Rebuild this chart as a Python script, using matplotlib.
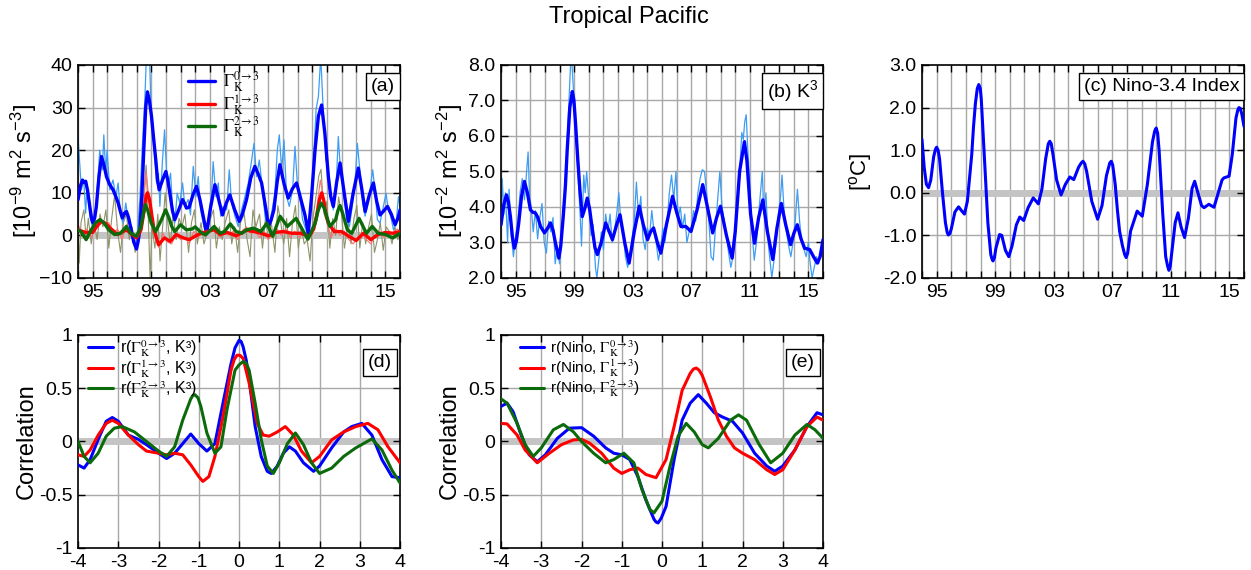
import matplotlib
matplotlib.use("Agg")
import matplotlib.pyplot as plt
from matplotlib.font_manager import FontProperties
from matplotlib.ticker import FixedLocator, FixedFormatter

plt.rcParams['font.family'] = ['Liberation Sans', 'DejaVu Sans']
plt.rcParams['mathtext.fontset'] = 'custom'
plt.rcParams['mathtext.rm'] = 'Liberation Sans'
plt.rcParams['mathtext.it'] = 'Liberation Sans:italic'
plt.rcParams['mathtext.bf'] = 'Liberation Sans:bold'
plt.rcParams['mathtext.sf'] = 'Liberation Sans'

# ---------------- DATA ----------------
# (a) thick blue Gamma 0->3
a_blue_t = [1994.00, 1994.15, 1994.30, 1994.42, 1994.52, 1994.65, 1994.80, 1994.93, 1995.03, 1995.14,
            1995.25, 1995.42, 1995.60, 1995.77, 1995.94, 1996.15, 1996.39, 1996.57, 1996.74, 1996.90,
            1997.03, 1997.17, 1997.31, 1997.45, 1997.58, 1997.80, 1997.99, 1998.10, 1998.22, 1998.36,
            1998.49, 1998.62, 1998.74, 1998.88, 1999.02, 1999.17, 1999.31, 1999.43, 1999.54, 1999.77,
            2000.00, 2000.14, 2000.27, 2000.45, 2000.61, 2000.88, 2001.14, 2001.27, 2001.41, 2001.59,
            2001.85, 2002.09, 2002.32, 2002.55, 2002.78, 2003.05, 2003.35, 2003.60, 2003.87, 2004.12,
            2004.37, 2004.70, 2005.01, 2005.25, 2005.51, 2005.80, 2006.08, 2006.30, 2006.54, 2006.72,
            2006.88, 2007.00, 2007.18, 2007.38, 2007.60, 2007.79, 2008.08, 2008.36, 2008.65, 2008.93,
            2009.22, 2009.50, 2009.73, 2009.95, 2010.19, 2010.42, 2010.64, 2010.86, 2011.10, 2011.27,
            2011.44, 2011.67, 2011.90, 2012.18, 2012.47, 2012.80, 2013.15, 2013.38, 2013.61, 2013.90,
            2014.18, 2014.40, 2014.63, 2014.90, 2015.14, 2015.40, 2015.66, 2015.85, 2016.00]
a_blue_v = [8.4, 11.5, 13.0, 12.4, 12.7, 10.5, 6.8, 3.8, 2.9, 4.2,
            6.8, 13.5, 18.5, 16.5, 13.8, 12.0, 10.7, 9.2, 7.6, 5.5,
            4.1, 5.2, 5.6, 4.2, 2.1, -1.5, -3.2, -1.5, 1.3, 9.5,
            20.0, 30.0, 33.7, 31.5, 27.9, 22.5, 17.7, 13.0, 10.7, 13.0,
            15.0, 12.8, 9.9, 5.8, 3.7, 6.0, 8.4, 7.5, 6.4, 6.6,
            9.5, 11.5, 8.5, 4.5, 0.5, 6.5, 11.9, 8.5, 4.8, 7.5,
            9.5, 6.0, 3.3, 5.2, 8.4, 13.5, 16.2, 14.5, 12.3, 8.5,
            5.2, 2.1, 3.5, 6.0, 12.5, 16.6, 12.0, 8.75, 11.0, 12.3,
            8.5, 4.8, 0.5, 9.0, 20.0, 28.0, 30.6, 24.0, 13.8, 9.0,
            6.8, 12.5, 17.0, 10.0, 3.3, 10.0, 15.8, 11.0, 5.6, 9.5,
            12.3, 8.0, 4.8, 5.8, 6.8, 5.0, 2.5, 4.0, 6.0]

# (a) thick red Gamma 1->3
a_red_t = [1994.0, 1994.5, 1995.0, 1995.3, 1995.6, 1995.9, 1996.2, 1996.7, 1997.3, 1997.7,
           1998.0, 1998.3, 1998.5, 1998.65, 1998.75, 1998.88, 1999.05, 1999.2, 1999.5, 1999.9,
           2000.3, 2000.7, 2001.2, 2001.6, 2002.2, 2002.8, 2003.3, 2003.7, 2004.2, 2004.8,
           2005.5, 2006.0, 2006.5, 2007.0, 2007.5, 2008.0, 2008.6, 2009.2, 2009.8, 2010.1,
           2010.3, 2010.5, 2010.65, 2010.8, 2010.95, 2011.1, 2011.5, 2012.0, 2012.5, 2013.0,
           2013.5, 2014.0, 2014.5, 2015.0, 2015.5, 2016.0]
a_red_v = [1.3, 0.7, 0.7, 2.2, 3.3, 2.8, 1.7, 0.2, 1.3, 0.2,
           -0.6, 1.3, 5.5, 9.3, 10.0, 8.5, 4.5, 1.2, -2.2, -0.6,
           -1.4, 0.2, -0.6, -1.0, 0.2, 0.9, 1.3, 0.2, 0.7, -0.1,
           1.2, 0.9, 0.5, -0.1, 0.7, 0.9, 0.5, 0.5, -0.2, 1.5,
           4.5, 8.5, 10.0, 8.0, 4.5, 2.9, 0.9, 0.9, -0.2, -1.2,
           0.5, -1.0, 0.2, 0.7, 0.5, 0.9]

# (a) thick green Gamma 2->3
a_grn_t = [1994.0, 1994.2, 1994.55, 1994.9, 1995.2, 1995.5, 1995.8, 1996.1, 1996.5, 1996.9,
           1997.3, 1997.6, 1998.0, 1998.3, 1998.45, 1998.6, 1998.75, 1999.0, 1999.3, 1999.7,
           1999.98, 2000.2, 2000.4, 2000.6, 2001.0, 2001.4, 2001.8, 2002.0, 2002.4, 2002.7,
           2003.3, 2003.7, 2004.0, 2004.4, 2004.8, 2005.2, 2005.5, 2006.0, 2006.5, 2006.9,
           2007.3, 2007.8, 2008.3, 2008.9, 2009.4, 2009.7, 2010.2, 2010.4, 2010.6, 2010.8,
           2011.2, 2011.6, 2011.75, 2011.9, 2012.05, 2012.4, 2012.7, 2013.2, 2013.7, 2014.1,
           2014.5, 2015.0, 2015.5, 2016.0]
a_grn_v = [1.3, 0.9, -1.0, 1.3, 3.0, 3.7, 2.8, 1.3, 0.2, 0.5,
           2.1, 0.5, -0.2, 2.1, 5.0, 7.2, 6.0, 2.9, 0.9, 3.7,
           6.0, 4.2, 2.1, 0.9, 2.5, 1.3, 1.5, 2.0, 0.7, 0.1,
           2.1, 0.5, 0.9, 2.7, 0.9, 0.5, 1.3, 1.7, 0.9, 2.9,
           -0.2, 4.5, 2.1, 4.0, 0.9, -0.9, 2.9, 5.8, 7.6, 6.5,
           2.1, 3.7, 5.8, 7.0, 5.5, 1.3, 0.5, 4.0, 0.5, 2.1,
           0.5, 0.2, -0.6, 0.5]

# (a) thin light blue (monthly Gamma 0->3)
a_blue_thin_t = [1994.00, 1994.23, 1994.39, 1994.52, 1994.62, 1994.80, 1995.03, 1995.25, 1995.48, 1995.66,
                 1995.76, 1995.89, 1995.98, 1996.17, 1996.39, 1996.58, 1996.74, 1996.90, 1997.08, 1997.26,
                 1997.42, 1997.65, 1997.88, 1998.04, 1998.22, 1998.40, 1998.56, 1998.67, 1998.86, 1999.02,
                 1999.18, 1999.36, 1999.49, 1999.59, 1999.77, 1999.91, 2000.04, 2000.16, 2000.32, 2000.45,
                 2000.61, 2000.77, 2000.95, 2001.14, 2001.30, 2001.52, 2001.68, 2001.87, 2002.05, 2002.21,
                 2002.37, 2002.55, 2002.73, 2002.89, 2003.12, 2003.23, 2003.42, 2003.58, 2003.74, 2003.92,
                 2004.15, 2004.33, 2004.49, 2004.72, 2004.94, 2005.17, 2005.40, 2005.63, 2005.86, 2006.02,
                 2006.20, 2006.38, 2006.61, 2006.77, 2007.00, 2007.22, 2007.45, 2007.61, 2007.75, 2007.91,
                 2008.07, 2008.25, 2008.43, 2008.66, 2008.82, 2008.98, 2009.16, 2009.34, 2009.57, 2009.73,
                 2009.89, 2010.07, 2010.26, 2010.42, 2010.58, 2010.76, 2010.94, 2011.10, 2011.26, 2011.44,
                 2011.62, 2011.78, 2011.94, 2012.13, 2012.35, 2012.54, 2012.70, 2012.92, 2013.08, 2013.27,
                 2013.45, 2013.61, 2013.77, 2013.95, 2014.13, 2014.29, 2014.45, 2014.63, 2014.86, 2015.04,
                 2015.20, 2015.36, 2015.55, 2015.73, 2015.89, 2016.00]
a_blue_thin_v = [23.0, 10.7, 13.0, 5.2, 12.0, 4.5, 1.3, 7.6, 20.0, 15.4,
                 23.6, 14.6, 20.0, 10.7, 13.0, 9.1, 12.3, 4.5, 2.9, 7.6,
                 3.7, 1.3, -2.6, -0.2, 8.4, 21.6, 31.8, 42.0, 45.0, 25.5,
                 21.6, 12.3, 14.6, 6.8, 17.7, 24.8, 15.4, 11.5, 14.6, 6.8,
                 2.9, 9.9, 7.6, 12.3, 6.8, 8.4, 4.8, 16.2, 9.1, 13.8,
                 6.0, 2.9, 0.2, 2.9, 9.9, 17.3, 9.1, 12.3, 4.5, 6.8,
                 6.0, 15.4, 7.6, 4.5, 2.1, 6.0, 9.1, 12.3, 17.7, 21.6,
                 13.8, 17.7, 10.7, 4.5, 1.3, 5.2, 9.9, 20.0, 23.6, 15.4,
                 22.4, 9.1, 6.8, 10.7, 20.9, 12.3, 9.1, 3.7, 1.3, -0.2,
                 6.0, 16.2, 29.5, 32.6, 42.0, 28.7, 17.7, 15.4, 9.1, 6.0,
                 10.7, 23.2, 14.6, 10.7, 3.7, 2.1, 6.0, 12.3, 21.6, 14.6,
                 7.6, 4.5, 6.8, 10.7, 15.4, 10.7, 3.7, 2.9, 6.8, 9.9,
                 6.0, 4.5, 1.3, 2.9, 9.1, 6.8]

# (a) thin light red (monthly Gamma 1->3)
a_red_thin_t = [1994.0, 1994.3, 1994.6, 1994.9, 1995.2, 1995.5, 1995.8, 1996.1, 1996.4, 1996.7,
                1997.0, 1997.3, 1997.6, 1997.9, 1998.2, 1998.45, 1998.65, 1998.85, 1999.05, 1999.3,
                1999.55, 1999.8, 2000.1, 2000.4, 2000.7, 2001.0, 2001.3, 2001.6, 2001.9, 2002.2,
                2002.5, 2002.8, 2003.1, 2003.4, 2003.7, 2004.0, 2004.3, 2004.6, 2004.9, 2005.2,
                2005.5, 2005.8, 2006.1, 2006.4, 2006.7, 2007.0, 2007.3, 2007.6, 2007.9, 2008.2,
                2008.5, 2008.8, 2009.1, 2009.4, 2009.7, 2010.0, 2010.3, 2010.55, 2010.75, 2011.0,
                2011.3, 2011.6, 2011.9, 2012.2, 2012.5, 2012.8, 2013.1, 2013.4, 2013.7, 2014.0,
                2014.3, 2014.6, 2014.9, 2015.2, 2015.5, 2015.8, 2016.0]
a_red_thin_v = [2.5, 0.5, 1.5, -0.5, 2.0, 4.0, 2.5, 3.0, 0.5, 1.5,
                -1.0, 2.5, 0.0, -1.5, 1.0, 6.0, 15.0, 8.0, 3.0, -1.0,
                -3.0, 0.5, -1.5, -2.0, 0.5, -1.0, -0.5, -2.0, 1.0, -0.5,
                1.0, 0.0, 1.5, 2.0, -0.5, 1.0, 0.0, 1.0, -1.0, 1.0,
                2.0, 0.5, 1.0, -0.5, 1.0, -1.0, 0.5, 1.5, 0.0, 1.5,
                -0.5, 1.0, -0.5, 0.5, -1.0, 1.0, 6.0, 13.0, 9.0, 3.0,
                -0.5, 1.5, 0.0, 1.0, -1.0, -2.0, -0.5, 0.5, -1.0, -2.0,
                0.0, 1.0, -0.5, 1.0, 0.5, 1.5, 1.0]

# (a) thin olive (monthly Gamma 2->3)
a_grn_thin_t = [1994.00, 1994.08, 1994.2, 1994.4, 1994.55, 1994.7, 1994.9, 1995.1, 1995.3, 1995.5,
                1995.7, 1995.9, 1996.1, 1996.3, 1996.5, 1996.7, 1996.9, 1997.1, 1997.3, 1997.5,
                1997.7, 1997.9, 1998.1, 1998.3, 1998.5, 1998.65, 1998.8, 1998.92, 1999.05, 1999.25,
                1999.45, 1999.6, 1999.8, 1999.95, 2000.1, 2000.3, 2000.5, 2000.7, 2000.9, 2001.1,
                2001.3, 2001.55, 2001.75, 2001.95, 2002.15, 2002.4, 2002.6, 2002.85, 2003.05, 2003.25,
                2003.45, 2003.65, 2003.85, 2004.05, 2004.3, 2004.5, 2004.7, 2004.9, 2005.1, 2005.35,
                2005.55, 2005.75, 2005.95, 2006.15, 2006.4, 2006.6, 2006.8, 2007.0, 2007.2, 2007.45,
                2007.65, 2007.85, 2008.05, 2008.25, 2008.45, 2008.65, 2008.85, 2009.05, 2009.25, 2009.45,
                2009.65, 2009.85, 2010.05, 2010.25, 2010.45, 2010.6, 2010.8, 2011.0, 2011.2, 2011.4,
                2011.6, 2011.8, 2012.0, 2012.2, 2012.45, 2012.65, 2012.85, 2013.05, 2013.25, 2013.45,
                2013.65, 2013.85, 2014.05, 2014.25, 2014.45, 2014.65, 2014.85, 2015.05, 2015.25, 2015.45,
                2015.65, 2015.85, 2016.0]
a_grn_thin_v = [2.0, -6.5, 3.0, 6.0, -1.0, 4.0, -2.0, 3.0, -1.0, 5.0,
                2.0, 6.0, -3.0, 4.0, 9.5, 1.0, -4.0, 3.0, 5.0, -1.0,
                2.0, -4.0, 2.0, 5.0, 10.0, 16.5, 4.0, -10.0, 2.0, -3.0,
                5.0, -6.0, 3.0, 10.0, 4.0, -2.0, 5.0, -1.0, 4.0, 2.0,
                5.0, -4.0, 3.0, 6.0, -2.0, 3.0, -2.0, 1.0, 4.0, 6.0,
                -3.0, 2.0, -1.0, 3.0, 6.0, -2.0, 2.0, -4.0, 3.0, 5.0,
                -1.0, -5.0, 6.0, 2.0, 5.0, -3.0, 4.0, -1.0, 3.0, -4.0,
                7.0, 3.0, -2.0, 4.0, -5.0, 3.0, 7.0, -3.0, 2.0, -2.0,
                -1.0, -6.0, 4.0, 9.0, 14.0, 15.5, 5.0, 8.0, -3.0, 4.0,
                0.0, 9.0, 5.0, -3.0, 3.0, -2.0, 4.0, 7.0, -3.0, 3.0,
                -2.0, 2.0, 5.0, -4.0, -1.0, 3.0, -3.5, 2.0, 1.0, -2.0,
                2.0, -1.0, 1.0]

# (b) K3 thick
b_t = [1994.00, 1994.18, 1994.37, 1994.50, 1994.64, 1994.78, 1994.91, 1995.05, 1995.21, 1995.40,
       1995.60, 1995.80, 1996.01, 1996.18, 1996.35, 1996.52, 1996.70, 1996.97, 1997.18, 1997.38,
       1997.55, 1997.72, 1997.95, 1998.08, 1998.25, 1998.40, 1998.52, 1998.70, 1998.87, 1998.98,
       1999.09, 1999.25, 1999.39, 1999.55, 1999.72, 1999.89, 2000.05, 2000.24, 2000.42, 2000.58,
       2000.85, 2001.15, 2001.40, 2001.61, 2001.90, 2002.13, 2002.45, 2002.75, 2003.10, 2003.44,
       2003.72, 2004.01, 2004.22, 2004.42, 2004.68, 2004.92, 2005.30, 2005.72, 2006.00, 2006.29,
       2006.63, 2006.98, 2007.38, 2007.78, 2008.10, 2008.46, 2008.73, 2008.99, 2009.40, 2009.79,
       2010.00, 2010.30, 2010.63, 2010.80, 2011.05, 2011.32, 2011.60, 2011.89, 2012.20, 2012.57,
       2012.85, 2013.15, 2013.45, 2013.78, 2014.00, 2014.24, 2014.50, 2014.74, 2015.09, 2015.35,
       2015.61, 2015.80, 2016.00]
b_v = [3.5, 4.05, 4.34, 4.15, 3.73, 3.15, 2.84, 3.05, 3.55, 4.3,
       4.72, 4.4, 3.92, 3.85, 3.83, 3.7, 3.45, 3.27, 3.4, 3.55,
       3.35, 2.98, 2.56, 2.9, 3.73, 4.6, 5.6, 6.8, 7.25, 7.0,
       6.36, 5.3, 4.48, 3.73, 3.95, 4.25, 3.95, 3.36, 2.85, 2.66,
       3.0, 3.55, 3.3, 3.08, 3.5, 3.78, 3.0, 2.42, 3.3, 4.02,
       3.5, 3.08, 3.3, 3.41, 3.0, 2.7, 3.5, 4.3, 3.85, 3.45,
       3.45, 3.31, 3.9, 4.63, 4.0, 3.27, 3.7, 4.02, 3.2, 2.56,
       3.3, 5.0, 5.84, 5.3, 3.8, 2.98, 3.7, 4.2, 3.3, 2.52,
       3.4, 4.1, 3.5, 2.94, 3.25, 3.5, 3.1, 2.84, 2.8, 2.6,
       2.42, 2.6, 3.08]

# (b) K3 thin monthly
b_thin_t = [1994.0, 1994.08, 1994.2, 1994.3, 1994.45, 1994.55, 1994.7, 1994.85, 1995.0, 1995.15,
            1995.3, 1995.45, 1995.6, 1995.75, 1995.85, 1995.95, 1996.1, 1996.2, 1996.35, 1996.5,
            1996.65, 1996.8, 1996.95, 1997.1, 1997.25, 1997.4, 1997.55, 1997.7, 1997.85, 1998.0,
            1998.15, 1998.3, 1998.45, 1998.6, 1998.75, 1998.85, 1998.95, 1999.1, 1999.25, 1999.4,
            1999.5, 1999.65, 1999.75, 1999.85, 2000.0, 2000.15, 2000.3, 2000.45, 2000.55, 2000.7,
            2000.85, 2001.0, 2001.15, 2001.3, 2001.45, 2001.6, 2001.75, 2001.9, 2002.05, 2002.2,
            2002.35, 2002.5, 2002.65, 2002.8, 2002.95, 2003.1, 2003.25, 2003.4, 2003.55, 2003.7,
            2003.85, 2004.0, 2004.15, 2004.3, 2004.45, 2004.6, 2004.75, 2004.9, 2005.05, 2005.2,
            2005.35, 2005.5, 2005.65, 2005.8, 2005.95, 2006.1, 2006.25, 2006.4, 2006.55, 2006.7,
            2006.85, 2007.0, 2007.15, 2007.3, 2007.45, 2007.6, 2007.75, 2007.9, 2008.05, 2008.2,
            2008.35, 2008.5, 2008.65, 2008.8, 2008.95, 2009.1, 2009.25, 2009.4, 2009.55, 2009.7,
            2009.85, 2010.0, 2010.15, 2010.3, 2010.45, 2010.55, 2010.65, 2010.75, 2010.85, 2011.0,
            2011.15, 2011.3, 2011.45, 2011.6, 2011.75, 2011.85, 2011.95, 2012.1, 2012.25, 2012.4,
            2012.5, 2012.65, 2012.8, 2012.95, 2013.1, 2013.2, 2013.35, 2013.5, 2013.65, 2013.8,
            2013.95, 2014.1, 2014.25, 2014.4, 2014.55, 2014.7, 2014.85, 2015.0, 2015.1, 2015.25,
            2015.4, 2015.55, 2015.7, 2015.85, 2016.0]
b_thin_v = [3.4, 4.8, 3.8, 4.4, 3.0, 4.5, 3.2, 2.6, 3.2, 3.6,
            4.4, 4.8, 4.2, 5.0, 5.55, 4.3, 3.8, 3.3, 3.9, 3.1,
            3.7, 4.1, 3.0, 2.7, 3.6, 3.3, 3.7, 2.4, 2.9, 2.4,
            3.2, 4.0, 5.2, 6.6, 8.0, 8.0, 7.3, 6.2, 5.0, 3.8,
            2.9, 4.9, 4.4, 5.0, 4.2, 3.2, 3.5, 2.3, 2.0, 2.6,
            3.3, 2.8, 3.8, 3.3, 3.8, 3.0, 3.3, 3.8, 4.4, 3.5,
            3.2, 2.6, 2.3, 2.6, 3.1, 3.6, 4.7, 3.7, 4.3, 3.1,
            2.8, 3.4, 3.2, 3.9, 3.3, 3.0, 2.5, 2.8, 3.4, 3.0,
            3.6, 4.4, 4.9, 4.2, 5.0, 3.7, 4.0, 3.4, 3.8, 3.0,
            3.3, 3.4, 3.9, 3.6, 4.4, 4.8, 5.05, 5.0, 4.4, 3.6,
            2.6, 2.5, 3.4, 4.2, 5.0, 4.0, 3.6, 3.2, 2.7, 2.3,
            2.6, 3.2, 4.2, 5.0, 6.1, 5.9, 6.4, 6.6, 5.7, 4.6,
            3.3, 2.5, 3.0, 3.8, 4.5, 5.0, 3.8, 4.4, 3.0, 2.4,
            2.0, 2.5, 3.0, 3.8, 4.3, 4.9, 3.8, 3.3, 2.9, 2.6,
            3.0, 3.6, 4.5, 3.6, 3.0, 2.8, 2.6, 3.0, 2.5, 2.0,
            2.3, 2.6, 2.4, 2.7, 3.1]

# (c) Nino-3.4 index
c_t = [1994.00, 1994.15, 1994.30, 1994.45, 1994.60, 1994.80, 1994.92, 1995.00, 1995.10, 1995.20,
       1995.40, 1995.60, 1995.72, 1995.80, 1995.90, 1996.00, 1996.25, 1996.50, 1996.70, 1996.90,
       1997.10, 1997.40, 1997.52, 1997.65, 1997.78, 1997.88, 1997.98, 1998.05, 1998.30, 1998.50,
       1998.70, 1998.78, 1998.85, 1998.95, 1999.05, 1999.30, 1999.45, 1999.70, 1999.93, 2000.15,
       2000.45, 2000.68, 2000.95, 2001.25, 2001.60, 2001.95, 2002.20, 2002.45, 2002.63, 2002.73,
       2002.83, 2002.95, 2003.20, 2003.50, 2003.80, 2004.10, 2004.37, 2004.70, 2004.88, 2005.00,
       2005.12, 2005.25, 2005.60, 2006.00, 2006.30, 2006.60, 2006.83, 2006.93, 2007.03, 2007.20,
       2007.35, 2007.50, 2007.70, 2007.85, 2007.95, 2008.05, 2008.25, 2008.70, 2009.05, 2009.40,
       2009.75, 2009.90, 2010.00, 2010.10, 2010.20, 2010.45, 2010.65, 2010.78, 2010.87, 2010.96,
       2011.10, 2011.30, 2011.49, 2011.70, 2011.94, 2012.20, 2012.45, 2012.63, 2012.85, 2013.10,
       2013.27, 2013.60, 2013.95, 2014.20, 2014.50, 2014.63, 2014.98, 2015.20, 2015.45, 2015.58,
       2015.66, 2015.75, 2015.85, 2016.00]
c_v = [1.25, 0.6, 0.2, 0.12, 0.3, 0.85, 1.02, 1.07, 1.0, 0.8,
       0.0, -0.7, -0.93, -0.99, -0.96, -0.85, -0.45, -0.33, -0.42, -0.5,
       -0.2, 0.9, 1.55, 2.1, 2.45, 2.54, 2.45, 2.2, 0.6, -0.7,
       -1.45, -1.55, -1.6, -1.52, -1.3, -0.98, -1.0, -1.35, -1.5, -1.25,
       -0.75, -0.57, -0.65, -0.35, -0.12, -0.26, 0.1, 0.8, 1.15, 1.21,
       1.15, 0.9, 0.3, -0.05, 0.2, 0.37, 0.31, 0.6, 0.7, 0.74,
       0.68, 0.5, -0.2, -0.62, -0.3, 0.4, 0.7, 0.74, 0.65, 0.2,
       -0.4, -0.9, -1.25, -1.45, -1.52, -1.42, -0.9, -0.43, -0.55, 0.2,
       1.2, 1.45, 1.52, 1.4, 1.0, -0.5, -1.5, -1.72, -1.82, -1.72,
       -1.3, -0.7, -0.47, -0.8, -1.05, -0.6, 0.1, 0.27, 0.0, -0.3,
       -0.35, -0.27, -0.34, -0.05, 0.3, 0.35, 0.39, 0.9, 1.75, 1.95,
       2.0, 1.98, 1.85, 1.56]

# (d) lag correlations r(Gamma, K3)
d_blue_lag = [-4.0, -3.85, -3.7, -3.5, -3.3, -3.15, -3.0, -2.75, -2.5, -2.3, -2.0, -1.8, -1.6, -1.4,
              -1.2, -1.0, -0.8, -0.6, -0.4, -0.2, -0.1, 0.0, 0.05, 0.1, 0.18, 0.25, 0.4, 0.55, 0.7, 0.8,
              0.95, 1.1, 1.25, 1.4, 1.6, 1.85, 2.0, 2.3, 2.6, 2.8, 3.05, 3.3, 3.55, 3.8, 4.0]
d_blue_r = [-0.22, -0.25, -0.17, 0.02, 0.19, 0.225, 0.19, 0.06, 0.02, -0.03, -0.11, -0.16, -0.11, -0.02,
            0.07, -0.02, -0.09, -0.02, 0.36, 0.73, 0.88, 0.95, 0.94, 0.89, 0.76, 0.58, 0.14, -0.14, -0.28, -0.3,
            -0.23, -0.11, -0.05, -0.09, -0.2, -0.28, -0.23, -0.06, 0.09, 0.14, 0.17, 0.06, -0.17, -0.33, -0.34]
d_red_lag = [-4.0, -3.85, -3.7, -3.5, -3.3, -3.15, -3.0, -2.75, -2.5, -2.3, -2.0, -1.8, -1.6, -1.4,
             -1.2, -1.0, -0.9, -0.75, -0.6, -0.4, -0.2, -0.12, -0.05, 0.02, 0.1, 0.25, 0.45, 0.6, 0.75,
             0.95, 1.15, 1.35, 1.55, 1.8, 2.0, 2.3, 2.6, 2.9, 3.2, 3.45, 3.7, 4.0]
d_red_r = [-0.125, -0.14, -0.08, 0.06, 0.17, 0.2, 0.17, 0.06, -0.03, -0.09, -0.11, -0.125, -0.11, -0.125,
           -0.22, -0.33, -0.375, -0.33, -0.14, 0.23, 0.67, 0.77, 0.81, 0.81, 0.78, 0.55, 0.17, 0.06, 0.05,
           0.09, 0.14, 0.06, -0.09, -0.2, -0.14, 0.015, 0.09, 0.14, 0.17, 0.11, -0.05, -0.2]
d_grn_lag = [-4.0, -3.85, -3.7, -3.5, -3.3, -3.1, -2.9, -2.6, -2.3, -2.0, -1.8, -1.6, -1.4, -1.2,
             -1.15, -1.1, -1.02, -0.95, -0.8, -0.6, -0.45, -0.3, -0.1, 0.0, 0.1, 0.17, 0.25, 0.4, 0.55,
             0.7, 0.85, 1.0, 1.2, 1.4, 1.6, 1.8, 2.0, 2.3, 2.6, 2.9, 3.3, 3.55, 3.8, 4.0]
d_grn_r = [0.0, -0.14, -0.2, -0.11, 0.05, 0.125, 0.14, 0.09, 0.0, -0.09, -0.14, -0.05, 0.2, 0.4,
           0.43, 0.44, 0.41, 0.33, 0.08, -0.11, -0.05, 0.3, 0.67, 0.72, 0.75, 0.74, 0.67, 0.36, 0.02,
           -0.23, -0.3, -0.2, -0.02, 0.08, -0.03, -0.2, -0.3, -0.25, -0.14, -0.06, 0.025, -0.08, -0.27, -0.39]

# (e) lag correlations r(Nino, Gamma)
e_blue_lag = [-4.0, -3.85, -3.7, -3.5, -3.3, -3.1, -2.9, -2.6, -2.3, -2.0, -1.7, -1.4, -1.2, -1.0,
              -0.8, -0.6, -0.4, -0.2, -0.15, -0.1, -0.02, 0.1, 0.3, 0.5, 0.7, 0.9, 1.1, 1.3, 1.5, 1.75,
              2.0, 2.3, 2.6, 2.8, 3.0, 3.3, 3.6, 3.85, 4.0]
e_blue_r = [0.33, 0.36, 0.28, 0.06, -0.125, -0.19, -0.125, 0.03, 0.125, 0.13, 0.05, -0.06, -0.11, -0.125,
            -0.17, -0.33, -0.55, -0.73, -0.755, -0.765, -0.72, -0.61, -0.17, 0.2, 0.36, 0.44, 0.36, 0.27, 0.23,
            0.19, 0.08, -0.11, -0.23, -0.28, -0.23, -0.08, 0.14, 0.27, 0.25]
e_red_lag = [-4.0, -3.85, -3.6, -3.4, -3.1, -2.8, -2.5, -2.2, -2.0, -1.8, -1.5, -1.2, -1.0, -0.8,
             -0.6, -0.4, -0.15, 0.1, 0.3, 0.5, 0.7, 0.78, 0.85, 0.92, 1.0, 1.2, 1.4, 1.6, 1.8, 2.0,
             2.3, 2.6, 2.8, 3.0, 3.3, 3.6, 3.85, 4.0]
e_red_r = [0.17, 0.165, 0.06, -0.08, -0.2, -0.11, -0.03, 0.015, 0.02, -0.015, -0.11, -0.25, -0.3, -0.265,
           -0.25, -0.31, -0.34, -0.17, 0.14, 0.48, 0.64, 0.68, 0.69, 0.67, 0.62, 0.42, 0.2, 0.05, -0.06, -0.11,
           -0.17, -0.265, -0.31, -0.265, -0.08, 0.14, 0.23, 0.2]
e_grn_lag = [-4.0, -3.85, -3.6, -3.4, -3.2, -3.0, -2.7, -2.45, -2.2, -2.0, -1.7, -1.4, -1.2, -0.95,
             -0.7, -0.5, -0.3, -0.2, 0.0, 0.2, 0.4, 0.6, 0.8, 1.0, 1.15, 1.4, 1.7, 1.9, 2.1, 2.4,
             2.7, 3.0, 3.3, 3.6, 3.8, 4.0]
e_grn_r = [0.4, 0.36, 0.17, -0.03, -0.14, -0.06, 0.11, 0.16, 0.09, 0.0, -0.11, -0.2, -0.17, -0.11,
           -0.2, -0.45, -0.64, -0.67, -0.56, -0.23, 0.05, 0.17, 0.09, -0.03, -0.06, 0.03, 0.2, 0.25, 0.2, -0.02,
           -0.2, -0.11, 0.06, 0.16, 0.11, 0.03]

years_all = list(range(1994, 2017))
year_labels = ['95', '99', '03', '07', '11', '15']
label_years = [1995, 1999, 2003, 2007, 2011, 2015]

# ---------------- STYLE ----------------
BLUE = '#0000ff'
RED = '#ff0000'
GREEN = '#0b6b0b'
LBLUE = '#3d9df5'
LRED = '#ff7070'
OLIVE = '#8f9368'
GRID = '#a8a8a8'
ZERO = '#c4c4c4'
TICK_FS = 14

fig = plt.figure(figsize=(12.51, 5.70), dpi=100)

W, H = 0.2574, 0.3737
axa = fig.add_axes([0.0624, 0.5123, W, H])
axb = fig.add_axes([0.4005, 0.5123, W, H])
axc = fig.add_axes([0.7370, 0.5123, W, H])
axd = fig.add_axes([0.0624, 0.0386, W, H])
axe = fig.add_axes([0.4005, 0.0386, W, H])


def style(ax):
    for s in ax.spines.values():
        s.set_linewidth(1.2)
        s.set_color('black')
    ax.tick_params(direction='in', length=5, width=1.0, top=True, right=True,
                   labelsize=TICK_FS, pad=4)


def time_axis(ax):
    ax.set_xlim(1994, 2016)
    ax.xaxis.set_major_locator(FixedLocator(years_all))
    lbls = []
    for y in years_all:
        lbls.append(year_labels[label_years.index(y)] if y in label_years else '')
    ax.xaxis.set_major_formatter(FixedFormatter(lbls))
    for y in years_all:
        ax.axvline(y, color=GRID, lw=1.0, zorder=0.5)


def hgrid(ax, vals):
    for v in vals:
        ax.axhline(v, color=GRID, lw=1.0, zorder=0.5)


def boxlabel(ax, txt, x=0.985, y=0.94):
    ax.text(x, y, txt, transform=ax.transAxes, ha='right', va='top', fontsize=14,
            bbox=dict(boxstyle='square,pad=0.25', fc='white', ec='black', lw=1.0), zorder=10)


LW_THICK = 2.4
LW_MID = 2.2
kw = dict(solid_joinstyle='round', solid_capstyle='round')

# ---- (a)
ax = axa
style(ax)
time_axis(ax)
ax.set_ylim(-10, 40)
ax.set_yticks([-10, 0, 10, 20, 30, 40])
hgrid(ax, [10, 20, 30])
ax.axhline(0, color=ZERO, lw=5, zorder=0.8)
ax.plot(a_grn_thin_t, a_grn_thin_v, color=OLIVE, lw=0.8, zorder=2)
ax.plot(a_red_thin_t, a_red_thin_v, color=LRED, lw=0.8, zorder=2)
ax.plot(a_blue_thin_t, a_blue_thin_v, color=LBLUE, lw=0.9, zorder=2)
l1, = ax.plot(a_blue_t, a_blue_v, color=BLUE, lw=LW_THICK, zorder=4, **kw)
l2, = ax.plot(a_red_t, a_red_v, color=RED, lw=LW_THICK, zorder=4, **kw)
l3, = ax.plot(a_grn_t, a_grn_v, color=GREEN, lw=LW_THICK, zorder=4, **kw)
ax.set_ylabel(r'[10$^{-9}$ m$^2$ s$^{-3}$]', fontsize=17, labelpad=0)
gprop = FontProperties(family=['Liberation Sans', 'DejaVu Sans'], size=12, math_fontfamily='stix')
leg = ax.legend([l1, l2, l3],
                [r'$\Gamma_{\rm K}^{0\to3}$', r'$\Gamma_{\rm K}^{1\to3}$', r'$\Gamma_{\rm K}^{2\to3}$'],
                loc='upper left', bbox_to_anchor=(0.31, 1.025), frameon=False, prop=gprop,
                handlelength=1.6, handletextpad=0.5, labelspacing=-0.15, borderaxespad=0.2)
leg.set_zorder(10)
boxlabel(ax, '(a)')

# ---- (b)
ax = axb
style(ax)
time_axis(ax)
ax.set_ylim(2.0, 8.0)
ax.set_yticks([2, 3, 4, 5, 6, 7, 8])
ax.set_yticklabels(['2.0', '3.0', '4.0', '5.0', '6.0', '7.0', '8.0'])
hgrid(ax, [3, 4, 5, 6, 7])
ax.plot(b_thin_t, b_thin_v, color=LBLUE, lw=0.9, zorder=2)
ax.plot(b_t, b_v, color=BLUE, lw=LW_THICK, zorder=4, **kw)
ax.set_ylabel(r'[10$^{-2}$ m$^2$ s$^{-2}$]', fontsize=17, labelpad=2)
boxlabel(ax, r'(b) K$^3$')

# ---- (c)
ax = axc
style(ax)
time_axis(ax)
ax.set_ylim(-2.0, 3.0)
ax.set_yticks([-2, -1, 0, 1, 2, 3])
ax.set_yticklabels(['-2.0', '-1.0', '0.0', '1.0', '2.0', '3.0'])
hgrid(ax, [-1, 1, 2])
ax.axhline(0, color=ZERO, lw=5, zorder=0.8)
ax.plot(c_t, c_v, color=BLUE, lw=LW_MID, zorder=4, **kw)
ax.set_ylabel(r'[$^{\rm o}$C]', fontsize=16, labelpad=6)
boxlabel(ax, '(c) Nino-3.4 Index')


# ---- (d), (e)
def corr_axis(ax):
    style(ax)
    ax.set_xlim(-4, 4)
    ax.set_ylim(-1, 1)
    ax.set_xticks(range(-4, 5))
    ax.set_xticklabels(['-4', '-3', '-2', '-1', '0', '1', '2', '3', '4'])
    ax.set_yticks([-1, -0.5, 0, 0.5, 1])
    ax.set_yticklabels(['-1', '-0.5', '0', '0.5', '1'])
    for v in range(-3, 4):
        ax.axvline(v, color=GRID, lw=1.0, zorder=0.5)
    hgrid(ax, [-0.5, 0.5])
    ax.axhline(0, color=ZERO, lw=5, zorder=0.8)
    ax.set_ylabel('Correlation', fontsize=17, labelpad=1)


lprop = FontProperties(family=['Liberation Sans', 'DejaVu Sans'], size=11.5, math_fontfamily='stix')

ax = axd
corr_axis(ax)
m1, = ax.plot(d_blue_lag, d_blue_r, color=BLUE, lw=LW_MID, zorder=4, **kw)
m2, = ax.plot(d_red_lag, d_red_r, color=RED, lw=LW_MID, zorder=4, **kw)
m3, = ax.plot(d_grn_lag, d_grn_r, color=GREEN, lw=LW_MID, zorder=4, **kw)
leg = ax.legend([m1, m2, m3],
                [r'r($\Gamma_{\rm K}^{0\to3}$, K³)', r'r($\Gamma_{\rm K}^{1\to3}$, K³)',
                 r'r($\Gamma_{\rm K}^{2\to3}$, K³)'],
                loc='upper left', bbox_to_anchor=(0.0, 1.03), frameon=False, prop=lprop,
                handlelength=1.6, handletextpad=0.4, labelspacing=-0.05, borderaxespad=0.2)
leg.set_zorder(10)
boxlabel(ax, '(d)', x=0.975, y=0.91)

ax = axe
corr_axis(ax)
n1, = ax.plot(e_blue_lag, e_blue_r, color=BLUE, lw=LW_MID, zorder=4, **kw)
n2, = ax.plot(e_red_lag, e_red_r, color=RED, lw=LW_MID, zorder=4, **kw)
n3, = ax.plot(e_grn_lag, e_grn_r, color=GREEN, lw=LW_MID, zorder=4, **kw)
eprop = FontProperties(family=['Liberation Sans', 'DejaVu Sans'], size=11, math_fontfamily='stix')
leg = ax.legend([n1, n2, n3],
                [r'r(Nino, $\Gamma_{\rm K}^{0\to3}$)', r'r(Nino, $\Gamma_{\rm K}^{1\to3}$)',
                 r'r(Nino, $\Gamma_{\rm K}^{2\to3}$)'],
                loc='upper left', bbox_to_anchor=(0.03, 1.03), frameon=False, prop=eprop,
                handlelength=1.6, handletextpad=0.4, labelspacing=-0.05, borderaxespad=0.2)
leg.set_zorder(10)
boxlabel(ax, '(e)', x=0.975, y=0.91)

fig.text(0.503, 0.970, 'Tropical Pacific', ha='center', va='center', fontsize=17)

fig.savefig('out.png', dpi=100)
